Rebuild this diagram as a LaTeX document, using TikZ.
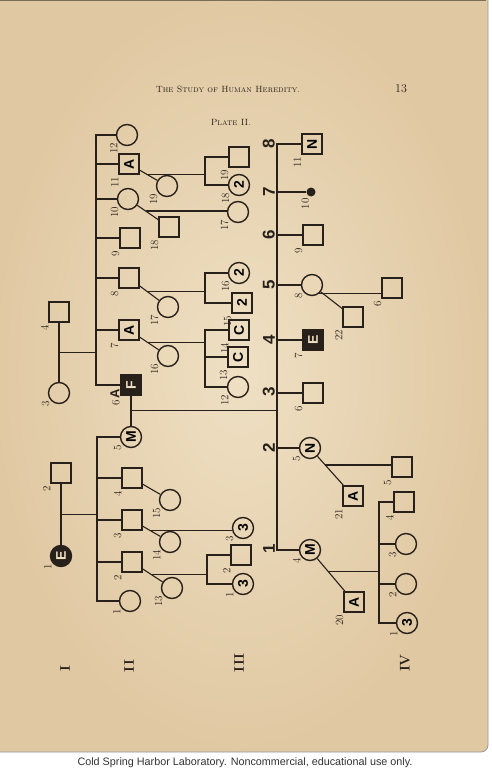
\documentclass[tikz,border=0pt]{standalone}
\usepackage{fontspec}
\setsansfont{Liberation Sans}

\definecolor{ink}{RGB}{40,32,26}
\definecolor{paperlite}{RGB}{239,224,196}
\definecolor{paperedge}{RGB}{224,200,162}
\newcommand{\rtxt}[1]{\rotatebox{90}{#1}}

\begin{document}
\begin{tikzpicture}[
  x=1pt, y=-1pt,
  sq/.style={draw=ink, line width=1.7pt, minimum size=20pt, inner sep=0pt, font=\sffamily\bfseries\fontsize{14}{14}\selectfont},
  ci/.style={circle, draw=ink, line width=1.4pt, minimum size=21pt, inner sep=0pt, font=\sffamily\bfseries\fontsize{14}{14}\selectfont},
  blk/.style={fill=ink, text=paperlite},
  thk/.style={line width=2.6pt},
  dot/.style={circle, fill=ink, minimum size=9pt, inner sep=0pt},
  lab/.style={rotate=90, anchor=south east, inner sep=0.6pt, text=ink, font=\fontsize{11}{11}\selectfont},
  lb/.style={label={[lab]225:#1}},
  lbc/.style={label={[lab]210:#1}},
  gen/.style={rotate=90, anchor=south, inner sep=2pt, text=ink, font=\sffamily\bfseries\fontsize{17}{17}\selectfont},
  roman/.style={rotate=90, text=ink, font=\bfseries\fontsize{14}{14}\selectfont},
  link/.style={draw=ink, line width=1.1pt},
  label distance=1.5pt
]
  \useasboundingbox (0,0) rectangle (491,773);
  % page
  \fill[white] (0,0) rectangle (491,773);
  \shade[inner color=paperlite, outer color=paperedge, rounded corners=7pt] (-8,-8) rectangle (488,752);
  \draw[paperedge!55!black, line width=1pt] (0,0.8) -- (486,0.8);
  \draw[black!40, line width=0.8pt, rounded corners=7pt] (0,752) -- (488,752) -- (488,0);

  \node[font=\scshape\fontsize{9}{9}\selectfont, text=ink] (head) at (228,89) {The Study of Human Heredity.};
  \node[font=\fontsize{12}{12}\selectfont, text=ink] (pageno) at (401,89) {13};
  \node[font=\scshape\fontsize{9}{9}\selectfont, text=ink] (plate) at (231,122) {Plate II.};

  % generation I
  \node[sq, lb=4] (i4) at (59,312) {};
  \node[ci, lbc=3] (i3) at (59,393) {};
  \node[sq, lb=2] (i2) at (61,473) {};
  \node[ci, blk, lbc=1] (i1) at (61,556) {\rtxt{E}};

  % generation II
  \coordinate (s2u) at (96,0);
  \coordinate (s2l) at (97,0);
  \node[ci, lbc=12] (ii12) at (127,135) {};
  \node[sq, lb=11] (ii11) at (129,164) {\rtxt{A}};
  \node[ci, lbc=10] (ii10) at (128,199) {};
  \node[sq, lb=9] (ii9) at (130,238) {};
  \node[sq, lb=8] (ii8) at (129,278) {};
  \node[sq, lb=7] (ii7) at (129,330) {\rtxt{A}};
  \node[sq, blk, label={[lab]190:6\,{\sffamily\bfseries\fontsize{13}{13}\selectfont A}}] (ii6) at (131,385) {\rtxt{F}};
  \node[ci, lbc=19] (ii19) at (167,186) {};
  \node[sq, lb=18] (ii18) at (169,227) {};
  \node[ci, lbc=17] (ii17) at (168,307) {};
  \node[ci, lbc=16] (ii16) at (168,356) {};

  \node[ci, lbc=5] (ii5) at (131,437) {\rtxt{M}};
  \node[sq, lb=4] (ii4) at (132,478) {};
  \node[sq, lb=3] (ii3) at (132,520) {};
  \node[sq, lb=2] (ii2) at (132,562) {};
  \node[ci, lbc=1] (ii1) at (130,601) {};
  \node[ci, lbc=15] (ii15) at (170,500) {};
  \node[ci, lbc=14] (ii14) at (170,542) {};
  \node[ci, lbc=13] (ii13) at (172,588) {};

  % generation III
  \coordinate (s3a) at (205,0);
  \coordinate (s3b) at (207,0);
  \coordinate (s3m) at (277,0);
  \node[sq, lb=19] (iii19) at (239,157) {};
  \node[ci, lbc=18] (iii18) at (239,185) {\rtxt{2}};
  \node[ci, lbc=17] (iii17) at (238,212) {};
  \node[ci, lbc=16] (iii16) at (239,273) {\rtxt{2}};
  \node[sq, lb=15] (iii15) at (242,303) {\rtxt{2}};
  \node[sq, lb=14] (iii14) at (239,330) {\rtxt{C}};
  \node[sq, lb=13] (iii13) at (238,357) {\rtxt{C}};
  \node[ci, lbc=12] (iii12) at (238,387) {};
  \node[ci, lbc=3] (iii3) at (243,528) {\rtxt{3}};
  \node[sq, lb=2] (iii2) at (241,555) {};
  \node[ci, lbc=1] (iii1) at (243,584) {\rtxt{3}};

  \node[sq, thk, lb=11] (iii11) at (312,144) {\rtxt{N}};
  \node[dot, label={[lab, label distance=3pt]225:10}] (iii10) at (311,192) {};
  \node[sq, lb=9] (iii9) at (313,235) {};
  \node[ci, lbc=8] (iii8) at (312,285) {};
  \node[sq, blk, lb=7] (iii7) at (313,340) {\rtxt{E}};
  \node[sq, lb=6] (iii6) at (313,393) {};
  \node[ci, lbc=5] (iii5) at (310,448) {\rtxt{N}};
  \node[ci, lbc=4] (iii4) at (310,550) {\rtxt{M}};
  \foreach \k/\y in {8/144, 7/192, 6/235, 5/285, 4/340, 3/392, 2/448, 1/549}
    \node[gen] (k\k) at (277,\y) {\k};

  \node[sq, lb=22] (iii22) at (353,317) {};
  \node[sq, lb=21] (iii21) at (353,496) {\rtxt{A}};
  \node[sq, lb=20] (iii20) at (354,602) {\rtxt{A}};

  % generation IV
  \coordinate (s4) at (379,0);
  \node[sq, lb=6] (iv6) at (392,288) {};
  \node[sq, lb=5] (iv5) at (402,467) {};
  \node[sq, lb=4] (iv4) at (404,502) {};
  \node[ci, lbc=3] (iv3) at (406,544) {};
  \node[ci, lbc=2] (iv2) at (406,584) {};
  \node[ci, lbc=1] (iv1) at (407,623) {\rtxt{3}};

  \node[roman] (gI) at (65,669) {I};
  \node[roman] (gII) at (129,666) {II};
  \node[roman] (gIII) at (239,663) {III};
  \node[roman] (gIV) at (405,663) {IV};

  % lines
  \draw[link] (i4) -- coordinate[pos=.5] (mI1) (i3);
  \draw[link] (mI1) -- (mI1 -| s2u);
  \draw[link] (i2) -- coordinate[pos=.5] (mI2) (i1);
  \draw[link] (mI2) -- (mI2 -| s2l);

  \draw[link] (ii12) -- (ii12 -| s2u) -- (ii6 -| s2u) -- (ii6);
  \foreach \p in {ii11,ii10,ii9,ii8,ii7} \draw[link] (\p) -- (\p -| s2u);
  \draw[link] (ii5) -- (ii5 -| s2l) -- (ii1 -| s2l) -- (ii1);
  \foreach \p in {ii4,ii3,ii2} \draw[link] (\p) -- (\p -| s2l);

  \draw[link] (ii11) -- coordinate[pos=.4] (m11) (ii19);
  \draw[link] (m11) -- (m11 -| s3a);
  \draw[link] (iii19) -- (iii19 -| s3a) -- (iii18 -| s3a) -- (iii18);
  \draw[link] (ii10) -- coordinate[pos=.4] (m10) (ii18);
  \draw[link] (m10) -- (m10 -| iii17.west);
  \draw[link] (ii8) -- coordinate[pos=.4] (m8) (ii17);
  \draw[link] (m8) -- (m8 -| s3a);
  \draw[link] (iii16) -- (iii16 -| s3a) -- (iii15 -| s3a) -- (iii15);
  \draw[link] (ii7) -- coordinate[pos=.4] (m7) (ii16);
  \draw[link] (m7) -- (m7 -| s3a);
  \draw[link] (iii14) -- (iii14 -| s3a) -- (iii12 -| s3a) -- (iii12);
  \draw[link] (iii13) -- (iii13 -| s3a);
  \draw[link] (ii6) -- coordinate[pos=.5] (m6) (ii5);
  \draw[link] (m6) -- (m6 -| s3m);
  \draw[link] (ii4) -- (ii15);
  \draw[link] (ii3) -- coordinate[pos=.4] (m3) (ii14);
  \draw[link] (m3) -- (m3 -| iii3.west);
  \draw[link] (ii2) -- coordinate[pos=.4] (m2) (ii13);
  \draw[link] (m2) -- (m2 -| s3b);
  \draw[link] (iii2) -- (iii2 -| s3b) -- (iii1 -| s3b) -- (iii1);

  \draw[link] (iii11) -- (iii11 -| s3m) -- (iii4 -| s3m) -- (iii4);
  \foreach \p in {iii10,iii9,iii8,iii7,iii6,iii5} \draw[link] (\p) -- (\p -| s3m);
  \draw[link] (iii8.-50) -- (iii8.-50 -| iv6.west);
  \draw[link] (iii8) -- (iii22);
  \draw[link] (iii5) -- coordinate[pos=.3] (m5) (iii21);
  \draw[link] (m5) -- (m5 -| iv5.west);
  \draw[link] (iii4) -- coordinate[pos=.4] (m4) (iii20);
  \draw[link] (m4) -- (m4 -| s4);
  \draw[link] (iv4) -- (iv4 -| s4) -- (iv1 -| s4) -- (iv1);
  \foreach \p in {iv3,iv2} \draw[link] (\p) -- (\p -| s4);

  \node[font=\sffamily\fontsize{10.8}{11}\selectfont, text=black!80] (note) at (245,763) {Cold Spring Harbor Laboratory. Noncommercial, educational use only.};
\end{tikzpicture}
\end{document}
